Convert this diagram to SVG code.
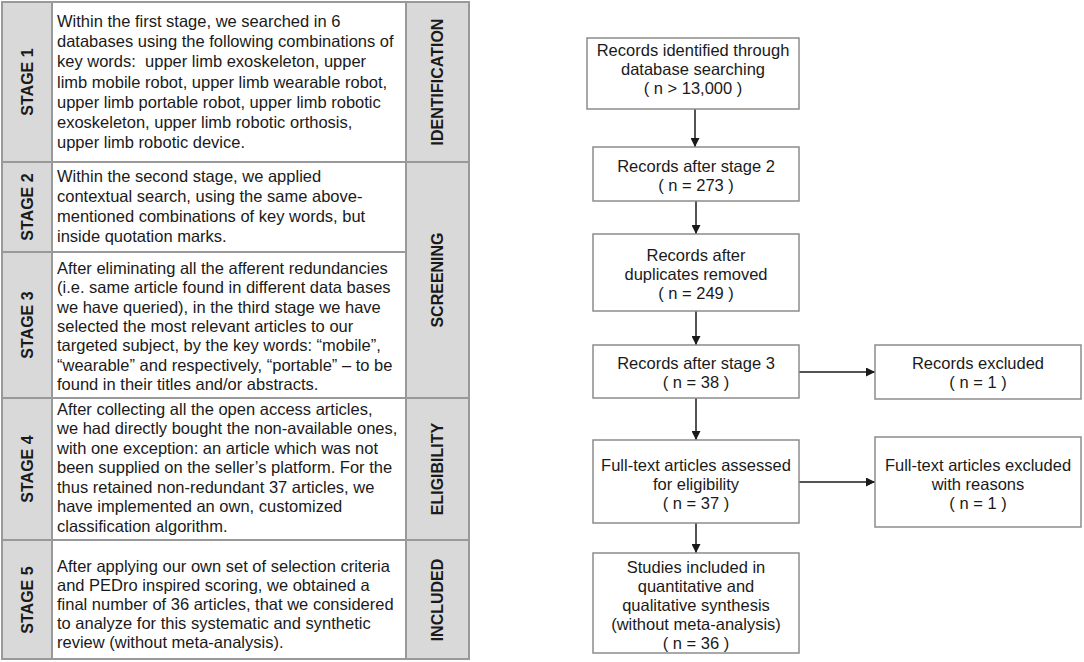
<svg xmlns="http://www.w3.org/2000/svg" width="1084" height="662" viewBox="0 0 1084 662">
<style>
.t{font-family:"Liberation Sans",Arial,Helvetica,sans-serif;font-size:16.5px;fill:#1a1a1a}
.c{text-anchor:middle}
.lb{font-family:"Liberation Sans",Arial,Helvetica,sans-serif;font-size:16px;font-weight:bold;fill:#1a1a1a;text-anchor:middle}
.grey{fill:#d9d9d9}
.grid{stroke:#999;stroke-width:2;fill:none}
.box{fill:#fff;stroke:#8c8c8c;stroke-width:1.5}
.arr{stroke:#1a1a1a;stroke-width:1.5;fill:none;marker-end:url(#ah)}
</style>
<defs>
<marker id="ah" viewBox="0 0 10 10" refX="10" refY="5" markerWidth="6" markerHeight="6" markerUnits="strokeWidth" orient="auto">
<path d="M0,0 L10,5 L0,10 z" fill="#1a1a1a"/>
</marker>
</defs>
<rect width="1084" height="662" fill="#fff"/>
<g id="table">
<rect class="grey" x="2" y="2" width="50" height="657"/>
<rect class="grey" x="406" y="2" width="63" height="657"/>
<rect class="grid" x="2" y="2" width="467" height="657"/>
<line class="grid" x1="52" y1="2" x2="52" y2="659"/>
<line class="grid" x1="406" y1="2" x2="406" y2="659"/>
<line class="grid" x1="2" y1="162" x2="469" y2="162"/>
<line class="grid" x1="2" y1="252" x2="406" y2="252"/>
<line class="grid" x1="2" y1="398" x2="469" y2="398"/>
<line class="grid" x1="2" y1="540" x2="469" y2="540"/>
</g>
<g id="stage1">
<text class="lb" transform="translate(27,82) rotate(-90)" dy="0.36em">STAGE 1</text>
<text class="t" x="57" y="27">Within the first stage, we searched in 6</text>
<text class="t" x="57" y="47">databases using the following combinations of</text>
<text class="t" x="57" y="67">key words:&#160; upper limb exoskeleton, upper</text>
<text class="t" x="57" y="88">limb mobile robot, upper limb wearable robot,</text>
<text class="t" x="57" y="108">upper limb portable robot, upper limb robotic</text>
<text class="t" x="57" y="128">exoskeleton, upper limb robotic orthosis,</text>
<text class="t" x="57" y="148">upper limb robotic device.</text>
</g>
<g id="stage2">
<text class="lb" transform="translate(27,207) rotate(-90)" dy="0.36em">STAGE 2</text>
<text class="t" x="57" y="182">Within the second stage, we applied</text>
<text class="t" x="57" y="202">contextual search, using the same above-</text>
<text class="t" x="57" y="222">mentioned combinations of key words, but</text>
<text class="t" x="57" y="242">inside quotation marks.</text>
</g>
<g id="stage3">
<text class="lb" transform="translate(27,325) rotate(-90)" dy="0.36em">STAGE 3</text>
<text class="t" x="57" y="274">After eliminating all the afferent redundancies</text>
<text class="t" x="57" y="293">(i.e. same article found in different data bases</text>
<text class="t" x="57" y="313">we have queried), in the third stage we have</text>
<text class="t" x="57" y="332">selected the most relevant articles to our</text>
<text class="t" x="57" y="351">targeted subject, by the key words: “mobile”,</text>
<text class="t" x="57" y="371">“wearable” and respectively, “portable” – to be</text>
<text class="t" x="57" y="390">found in their titles and/or abstracts.</text>
</g>
<g id="stage4">
<text class="lb" transform="translate(27,469) rotate(-90)" dy="0.36em">STAGE 4</text>
<text class="t" x="57" y="415">After collecting all the open access articles,</text>
<text class="t" x="57" y="434">we had directly bought the non-available ones,</text>
<text class="t" x="57" y="454">with one exception: an article which was not</text>
<text class="t" x="57" y="473">been supplied on the seller’s platform. For the</text>
<text class="t" x="57" y="493">thus retained non-redundant 37 articles, we</text>
<text class="t" x="57" y="512">have implemented an own, customized</text>
<text class="t" x="57" y="532">classification algorithm.</text>
</g>
<g id="stage5">
<text class="lb" transform="translate(27,600) rotate(-90)" dy="0.36em">STAGE 5</text>
<text class="t" x="57" y="572">After applying our own set of selection criteria</text>
<text class="t" x="57" y="591">and PEDro inspired scoring, we obtained a</text>
<text class="t" x="57" y="610">final number of 36 articles, that we considered</text>
<text class="t" x="57" y="629">to analyze for this systematic and synthetic</text>
<text class="t" x="57" y="648">review (without meta-analysis).</text>
</g>
<g id="cat-identification"><text class="lb" transform="translate(437,82) rotate(-90)" dy="0.36em">IDENTIFICATION</text></g>
<g id="cat-screening"><text class="lb" transform="translate(437,280) rotate(-90)" dy="0.36em">SCREENING</text></g>
<g id="cat-eligibility"><text class="lb" transform="translate(437,469) rotate(-90)" dy="0.36em">ELIGIBILITY</text></g>
<g id="cat-included"><text class="lb" transform="translate(437,600) rotate(-90)" dy="0.36em">INCLUDED</text></g>

<g id="connectors">
<line class="arr" x1="695" y1="109" x2="695" y2="147"/>
<line class="arr" x1="696" y1="201" x2="696" y2="234"/>
<line class="arr" x1="696" y1="311" x2="696" y2="345"/>
<line class="arr" x1="696" y1="398" x2="696" y2="440"/>
<line class="arr" x1="696" y1="523" x2="696" y2="553"/>
<line class="arr" x1="799" y1="372" x2="875" y2="372"/>
<line class="arr" x1="799" y1="482" x2="875" y2="482"/>
</g>
<g id="n1">
<rect class="box" x="587" y="38" width="212" height="71"/>
<text class="t c" x="693" y="56">Records identified through</text>
<text class="t c" x="693" y="75">database searching</text>
<text class="t c" x="693" y="94">( n &gt; 13,000 )</text>
</g>
<g id="n2">
<rect class="box" x="593" y="147" width="206" height="54"/>
<text class="t c" x="696" y="172">Records after stage 2</text>
<text class="t c" x="696" y="191">( n = 273 )</text>
</g>
<g id="n3">
<rect class="box" x="593" y="234" width="206" height="77"/>
<text class="t c" x="696" y="261">Records after</text>
<text class="t c" x="696" y="280">duplicates removed</text>
<text class="t c" x="696" y="299">( n = 249 )</text>
</g>
<g id="n4">
<rect class="box" x="593" y="345" width="206" height="53"/>
<text class="t c" x="696" y="369">Records after stage 3</text>
<text class="t c" x="696" y="388">( n = 38 )</text>
</g>
<g id="n5">
<rect class="box" x="875" y="345" width="206" height="54"/>
<text class="t c" x="978" y="369">Records excluded</text>
<text class="t c" x="978" y="388">( n = 1 )</text>
</g>
<g id="n6">
<rect class="box" x="593" y="440" width="206" height="83"/>
<text class="t c" x="696" y="471">Full-text articles assessed</text>
<text class="t c" x="696" y="490">for eligibility</text>
<text class="t c" x="696" y="509">( n = 37 )</text>
</g>
<g id="n7">
<rect class="box" x="875" y="437" width="206" height="90"/>
<text class="t c" x="978" y="471">Full-text articles excluded</text>
<text class="t c" x="978" y="490">with reasons</text>
<text class="t c" x="978" y="509">( n = 1 )</text>
</g>
<g id="n8">
<rect class="box" x="593" y="553" width="206" height="100"/>
<text class="t c" x="696" y="573">Studies included in</text>
<text class="t c" x="696" y="592">quantitative and</text>
<text class="t c" x="696" y="611">qualitative synthesis</text>
<text class="t c" x="696" y="630">(without meta-analysis)</text>
<text class="t c" x="696" y="649">( n = 36 )</text>
</g>
</svg>
